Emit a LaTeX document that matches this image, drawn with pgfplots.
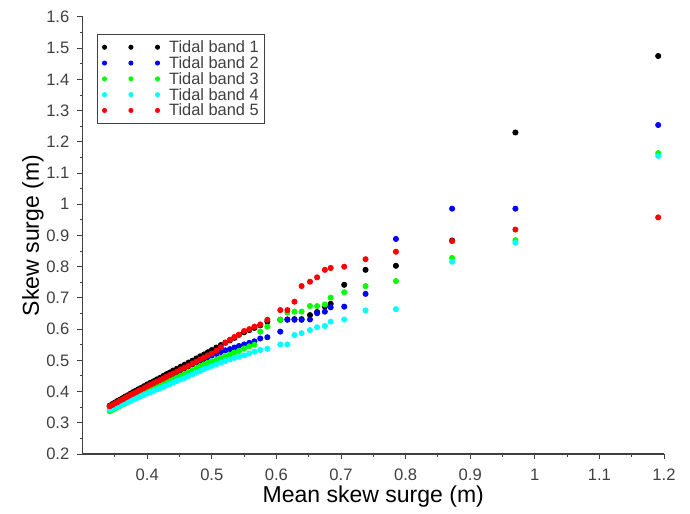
\documentclass[border=0pt]{standalone}
\usepackage{fontspec}
\setmainfont{Liberation Sans}
\usepackage{pgfplots}
\usepackage{pgfplotstable}
\pgfplotsset{compat=1.18}
\definecolor{tickgray}{RGB}{64,64,64}
\definecolor{cgreen}{RGB}{0,255,0}
\definecolor{ccyan}{RGB}{0,255,255}
\definecolor{cblue}{RGB}{0,0,255}
\definecolor{cred}{RGB}{255,0,0}

\pgfplotstableread{
x     b1    b2    b3    b4    b5
0.342 0.355 0.352 0.337 0.342 0.353
0.346 0.360 0.356 0.341 0.345 0.357
0.350 0.365 0.361 0.345 0.349 0.362
0.354 0.370 0.365 0.350 0.352 0.366
0.358 0.374 0.369 0.354 0.356 0.371
0.362 0.379 0.374 0.358 0.360 0.375
0.366 0.384 0.378 0.362 0.363 0.380
0.370 0.388 0.383 0.367 0.367 0.384
0.374 0.393 0.387 0.371 0.370 0.389
0.378 0.398 0.392 0.375 0.374 0.393
0.382 0.402 0.396 0.380 0.378 0.397
0.386 0.407 0.400 0.384 0.381 0.402
0.390 0.411 0.405 0.389 0.385 0.406
0.395 0.417 0.410 0.394 0.389 0.411
0.400 0.423 0.416 0.399 0.394 0.417
0.405 0.428 0.421 0.404 0.398 0.422
0.410 0.433 0.427 0.409 0.402 0.427
0.415 0.439 0.432 0.414 0.407 0.432
0.420 0.444 0.437 0.419 0.411 0.437
0.425 0.450 0.442 0.424 0.415 0.442
0.430 0.456 0.447 0.429 0.420 0.448
0.435 0.461 0.452 0.434 0.424 0.453
0.440 0.467 0.457 0.439 0.429 0.458
0.446 0.473 0.463 0.445 0.434 0.464
0.452 0.480 0.469 0.451 0.439 0.471
0.458 0.486 0.475 0.456 0.444 0.477
0.464 0.493 0.481 0.462 0.450 0.483
0.470 0.499 0.487 0.468 0.455 0.490
0.476 0.506 0.493 0.474 0.461 0.496
0.482 0.513 0.499 0.480 0.466 0.503
0.488 0.519 0.505 0.486 0.472 0.509
0.494 0.526 0.511 0.492 0.477 0.516
0.500 0.533 0.516 0.497 0.482 0.522
0.507 0.541 0.521 0.502 0.488 0.531
0.514 0.549 0.527 0.508 0.493 0.542
0.521 0.557 0.532 0.513 0.498 0.556
0.528 0.564 0.536 0.518 0.503 0.566
0.535 0.572 0.541 0.525 0.508 0.575
0.542 0.582 0.546 0.530 0.512 0.582
0.550 0.590 0.551 0.538 0.516 0.594
0.558 0.597 0.556 0.545 0.522 0.600
0.566 0.604 0.561 0.550 0.528 0.608
0.575 0.612 0.570 0.592 0.533 0.615
0.586 0.624 0.574 0.608 0.537 0.630
0.606 0.630 0.592 0.630 0.551 0.661
0.617 0.631 0.630 0.653 0.551 0.661
0.628 0.632 0.630 0.656 0.581 0.688
0.639 0.632 0.630 0.656 0.587 0.738
0.652 0.645 0.631 0.674 0.597 0.752
0.663 0.655 0.651 0.674 0.606 0.766
0.675 0.672 0.656 0.679 0.610 0.790
0.684 0.681 0.670 0.701 0.624 0.796
0.705 0.742 0.672 0.718 0.631 0.800
0.738 0.790 0.713 0.738 0.660 0.824
0.785 0.803 0.889 0.754 0.664 0.848
0.872 0.884 0.986 0.828 0.816 0.882
0.970 1.230 0.986 0.885 0.877 0.919
1.191 1.475 1.254 1.164 1.155 0.958
}\datatable

\pgfplotsset{
  dots/.style={only marks, mark=*, mark size=1.3pt, color=#1,
    mark options={draw=none, fill=#1},
    legend image code/.code={%
      \fill[#1] (0pt,0pt) circle (1pt);
      \fill[#1] (13.2pt,0pt) circle (1pt);
      \fill[#1] (26.5pt,0pt) circle (1pt);
      \path[draw=none,fill=none] (-1pt,0pt) rectangle (31.5pt,0.01pt);}},
}

\begin{document}
\begin{tikzpicture}
\begin{axis}[
  scale only axis,
  width=290.7pt, height=218.5pt,
  xmin=0.3, xmax=1.2, ymin=0.2, ymax=1.6,
  axis lines=left,
  axis line style={-, draw=tickgray, line width=0.6pt},
  tick align=outside,
  major tick length=2.6pt,
  minor tick length=1.5pt,
  tick style={draw=tickgray, line width=0.5pt},
  xtick={0.4,0.5,0.6,0.7,0.8,0.9,1,1.1,1.2},
  minor xtick={0.35,0.45,0.55,0.65,0.75,0.85,0.95,1.05,1.15},
  ytick={0.2,0.3,0.4,0.5,0.6,0.7,0.8,0.9,1,1.1,1.2,1.3,1.4,1.5,1.6},
  minor ytick={0.25,0.35,0.45,0.55,0.65,0.75,0.85,0.95,1.05,1.15,1.25,1.35,1.45,1.55},
  /pgf/number format/assume math mode=true,
  ticklabel style={font=\fontsize{8.3}{10}\selectfont, text=tickgray},
  xticklabel style={yshift=-1.5pt},
  yticklabel style={xshift=-0.5pt},
  xlabel={Mean skew surge (m)},
  ylabel={Skew surge (m)},
  label style={font=\fontsize{11.5}{13}\selectfont},
  xlabel style={at={(axis description cs:0.5,-0.097)}, anchor=center},
  ylabel style={at={(axis description cs:-0.0853,0.5)}, anchor=center, rotate=0},
  legend style={at={(0.025,0.961)}, anchor=north west,
    draw=tickgray, line width=0.5pt,
    font=\fontsize{8.2}{8}\selectfont, text=tickgray,
    inner xsep=2.2pt, inner ysep=2.4pt,
    nodes={inner sep=0.8pt, text height=5.9pt, text depth=0.4pt, anchor=west},
    legend cell align=left},
]
\addplot[dots=black] table[x=x, y=b1] {\datatable};
\addlegendentry{Tidal band 1}
\addplot[dots=cblue] table[x=x, y=b2] {\datatable};
\addlegendentry{Tidal band 2}
\addplot[dots=cgreen] table[x=x, y=b3] {\datatable};
\addlegendentry{Tidal band 3}
\addplot[dots=ccyan] table[x=x, y=b4] {\datatable};
\addlegendentry{Tidal band 4}
\addplot[dots=cred] table[x=x, y=b5] {\datatable};
\addlegendentry{Tidal band 5}
\end{axis}
\path ([shift={(-41.3pt,-27pt)}]current axis.south west) rectangle ([shift={(13pt,8.5pt)}]current axis.north east);
\end{tikzpicture}
\end{document}
